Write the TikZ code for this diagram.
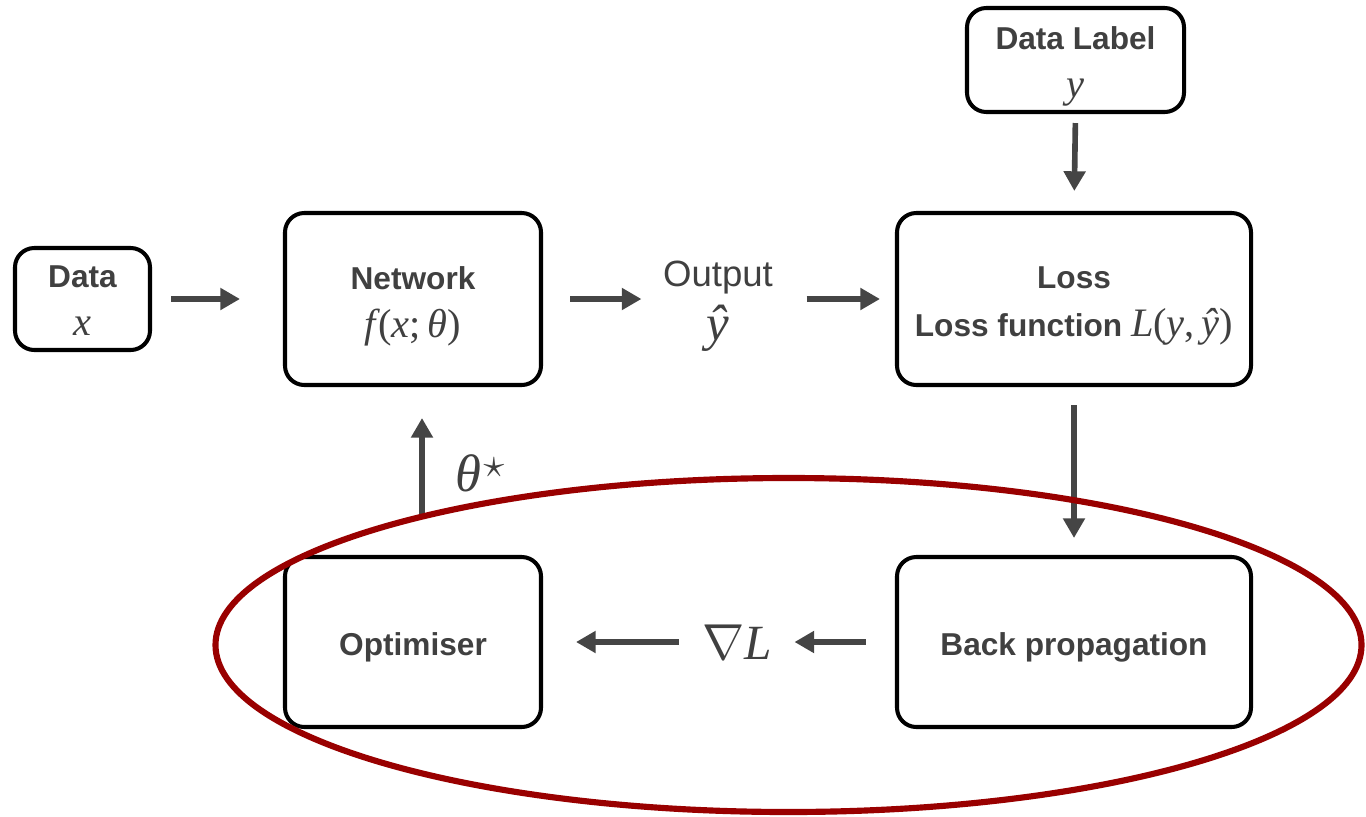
\documentclass[tikz,border=0pt]{standalone}
\usepackage{fontspec}
\setsansfont{Liberation Sans}
\newfontfamily\tms{Liberation Serif}
\usetikzlibrary{arrows.meta}
\definecolor{txt}{HTML}{404040}
\definecolor{arr}{HTML}{454545}
\definecolor{loop}{HTML}{990000}
% italic and upright pieces of the formulas, set in a Times-like serif
\newcommand\vi[1]{{\tms\mdseries\itshape #1}}
\newcommand\vr[1]{{\tms\mdseries\upshape #1}}
\begin{document}
\begin{tikzpicture}[x=1cm,y=1cm,
  box/.style={draw=black, line width=1.15pt, rounded corners=5.5pt, inner sep=0pt},
  boxtext/.style={text=txt, align=center, inner sep=0pt,
    font=\sffamily\bfseries\fontsize{9}{13.6}\selectfont},
  plain/.style={text=txt, align=center, inner sep=0pt},
  flow/.style={draw=arr, line width=1.6pt, -{Triangle[length=5.6pt,width=6pt]}},
  ring/.style={draw=loop, line width=1.75pt}
]
\useasboundingbox (0,0) rectangle (13.66,8.16);

% block frames
\node[box, minimum width=1.35cm, minimum height=1.02cm] (data) at (0.825,5.17) {};
\node[box, minimum width=2.56cm, minimum height=1.72cm] (net) at (4.13,5.17) {};
\node[box, minimum width=3.54cm, minimum height=1.72cm] (loss) at (10.74,5.17) {};
\node[box, minimum width=2.17cm, minimum height=1.04cm] (label) at (10.755,7.56) {};
\node[box, minimum width=3.54cm, minimum height=1.70cm] (bp) at (10.74,1.74) {};
\node[box, minimum width=2.56cm, minimum height=1.70cm] (opt) at (4.13,1.74) {};

% block texts
\node[boxtext] (data-t) at ([yshift=-0.02cm]data.center)
  {Data\\{\fontsize{11.5}{13}\selectfont\vi{x}}};
\node[boxtext] (net-t) at ([yshift=-0.07cm]net.center)
  {Network\\{\fontsize{11.5}{13}\selectfont\vi{f}\kern0.06em\vr{(}\vi{x}\vr{;\,}\vi{θ}\vr{)}}};
\node[boxtext] (loss-t) at ([yshift=-0.07cm]loss.center)
  {Loss\\Loss function {\fontsize{11.5}{13}\selectfont\vi{L}\vr{(}\vi{y}\vr{,\,}\vi{ŷ}\vr{)}}};
\node[boxtext] (label-t) at ([yshift=-0.06cm]label.center)
  {Data Label\\{\fontsize{11.5}{13}\selectfont\vi{y}}};
\node[boxtext] (bp-t) at ([yshift=-0.05cm]bp.center) {Back propagation};
\node[boxtext] (opt-t) at ([yshift=-0.05cm]opt.center) {Optimiser};

% free labels
\node[plain, font=\sffamily\fontsize{10.4}{15.5}\selectfont] (out) at (7.18,5.10)
  {Output\\{\fontsize{14.5}{14}\selectfont\vi{ŷ}}};
\node[plain, font=\fontsize{14}{14}\selectfont] (grad) at (7.37,1.74) {$\nabla$\vi{L}};
\node[plain, font=\fontsize{15}{15}\selectfont] (theta) at (4.80,3.43)
  {\vi{θ}\kern0.04em\raisebox{0.62ex}{\fontsize{13}{13}\selectfont$\star$}};

% forward pass
\draw[flow, shorten <=0.19cm, shorten >=0.43cm] (data.east) -- (net.west);
\draw[flow, shorten <=0.27cm, shorten >=0.21cm] (net.east) -- (net.east -| out.west);
\draw[flow, shorten <=0.33cm, shorten >=0.15cm] (loss.west -| out.east) -- (loss.west);
\draw[flow, shorten <=0.09cm, shorten >=0.20cm] (label.south) -- (loss.north);
\draw[flow, shorten <=0.18cm, shorten >=0.17cm] (loss.south) -- (bp.north);

% backward pass
\draw[flow, shorten <=0.29cm, shorten >=0.22cm] (bp.west) -- (bp.west -| grad.east);
\draw[flow, shorten <=0.23cm, shorten >=0.33cm] (opt.east -| grad.west) -- (opt.east);
\draw[flow, shorten <=0.39cm, shorten >=0.31cm] ([xshift=0.9mm]opt.north) -- ([xshift=0.9mm]net.south);

% training loop highlight
\draw[ring] (7.885,1.71) ellipse [x radius=5.73, y radius=1.67];
\end{tikzpicture}
\end{document}
